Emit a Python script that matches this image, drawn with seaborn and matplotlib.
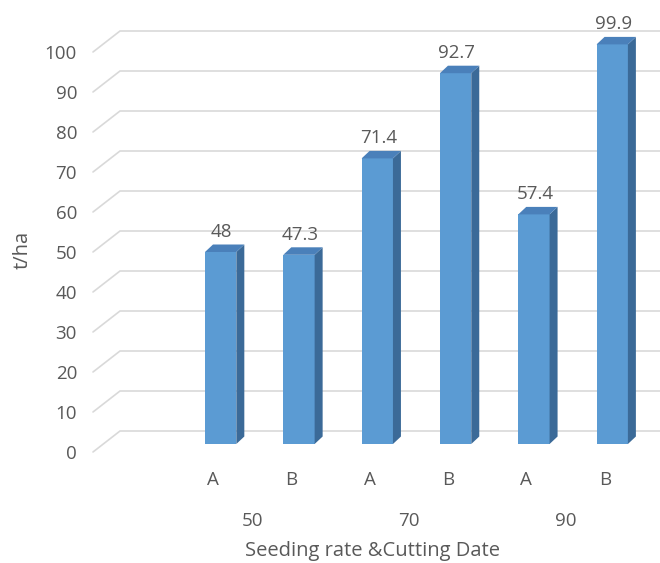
import matplotlib
matplotlib.use("Agg")
import matplotlib.pyplot as plt
from matplotlib.patches import Polygon
from matplotlib.transforms import ScaledTranslation
import numpy as np
import pandas as pd
import seaborn as sns

# Yield (t/ha) by seeding rate and cutting date
seeding_rates = ["50", "50", "70", "70", "90", "90"]
cutting_dates = ["A", "B", "A", "B", "A", "B"]
yields = [48, 47.3, 71.4, 92.7, 57.4, 99.9]
y_ticks = [0, 10, 20, 30, 40, 50, 60, 70, 80, 90, 100]

df = pd.DataFrame({"rate": seeding_rates, "date": cutting_dates, "yield": yields})
df["key"] = df["rate"] + "-" + df["date"]

sns.set_theme(style="white")
plt.rcParams["font.family"] = ["Open Sans", "DejaVu Sans"]

TEXT = "#595959"
GRID = "#d9d9d9"
FRONT = "#5b9bd3"
SIDE = "#3b6a98"
TOP = "#4a80ba"
FS = 13.5
FS_TITLE = 14.5

DPI = 100
W, H = 660, 563
fig = plt.figure(figsize=(W / DPI, H / DPI), dpi=DPI)
fig.patch.set_facecolor("white")
# plot area: left edge at 93 px, floor line (y=0) at 444 px from the top
ax = fig.add_axes([93 / W, (H - 444) / H, (660 - 93) / W, 420 / H])

sns.barplot(data=df, x="key", y="yield", order=list(df["key"]), color=FRONT,
            saturation=1, width=0.4, ax=ax, linewidth=0, zorder=3)
ax.set_xlim(-1.63, 5.61)
ax.set_ylim(0, 105)
for s in ax.spines.values():
    s.set_visible(False)
ax.set_facecolor("white")

# perspective gridlines: short floor diagonal, then the back wall line
ytrans = ax.get_yaxis_transform()
to_axes = ax.transAxes.inverted()
wall_x = 27 / 567
for v in y_ticks:
    p0 = ytrans.transform((0, v)) + np.array([0, -8])
    p1 = ytrans.transform((wall_x, v)) + np.array([0, 13])
    p2 = ytrans.transform((1, v)) + np.array([0, 13])
    pts = to_axes.transform(np.array([p0, p1, p2]))
    ax.plot(pts[:, 0], pts[:, 1], color=GRID, lw=1.2, transform=ax.transAxes,
            clip_on=False, zorder=1, solid_joinstyle="miter")

# depth faces of each column (side and top)
depth = np.array([8.0, 7.5])
to_data = ax.transData.inverted()
for p in list(ax.patches):
    x0, w, h = p.get_x(), p.get_width(), p.get_height()
    fbr = ax.transData.transform((x0 + w, 0))
    ftr = ax.transData.transform((x0 + w, h))
    ftl = ax.transData.transform((x0, h))
    side = to_data.transform(np.array([fbr, ftr, ftr + depth, fbr + depth]))
    top = to_data.transform(np.array([ftl, ftr, ftr + depth, ftl + depth]))
    ax.add_patch(Polygon(side, closed=True, facecolor=SIDE, edgecolor="none", zorder=3))
    ax.add_patch(Polygon(top, closed=True, facecolor=TOP, edgecolor="none", zorder=3))

# value labels
for i, v in enumerate(yields):
    ax.annotate(f"{v:g}", (i, v), xytext=(1, 15), textcoords="offset pixels",
                ha="center", va="baseline", color=TEXT, fontsize=FS, zorder=5)

# y axis ticks
ax.set_yticks(y_ticks)
ax.tick_params(axis="y", length=0, pad=11.5, labelsize=FS, labelcolor=TEXT)
for lab in ax.get_yticklabels():
    lab.set_transform(lab.get_transform() + ScaledTranslation(0, -0.08, fig.dpi_scale_trans))

# x axis: cutting date under each column
ax.set_xticks(range(len(cutting_dates)))
ax.set_xticklabels(cutting_dates)
ax.tick_params(axis="x", length=0, pad=29.5, labelsize=FS, labelcolor=TEXT)
for lab in ax.get_xticklabels():
    lab.set_va("baseline")
    lab.set_transform(lab.get_transform() + ScaledTranslation(-0.075, 0, fig.dpi_scale_trans))

# seeding rate group labels
for rate in dict.fromkeys(seeding_rates):
    mid = np.mean([i for i, r in enumerate(seeding_rates) if r == rate])
    ax.annotate(rate, (mid, 0), xytext=(-7.5, -82), textcoords="offset pixels",
                ha="center", va="baseline", color=TEXT, fontsize=FS,
                annotation_clip=False)

ax.set_xlabel("Seeding rate &Cutting Date", color=TEXT, fontsize=FS_TITLE)
ax.xaxis.set_label_coords(0.4938, -0.2667)
ax.xaxis.label.set_va("baseline")
ax.set_ylabel("t/ha", color=TEXT, fontsize=FS_TITLE)
ax.yaxis.set_label_coords(-0.1235, 0.462)
ax.yaxis.label.set_va("center")

fig.savefig("out.png", dpi=DPI)
